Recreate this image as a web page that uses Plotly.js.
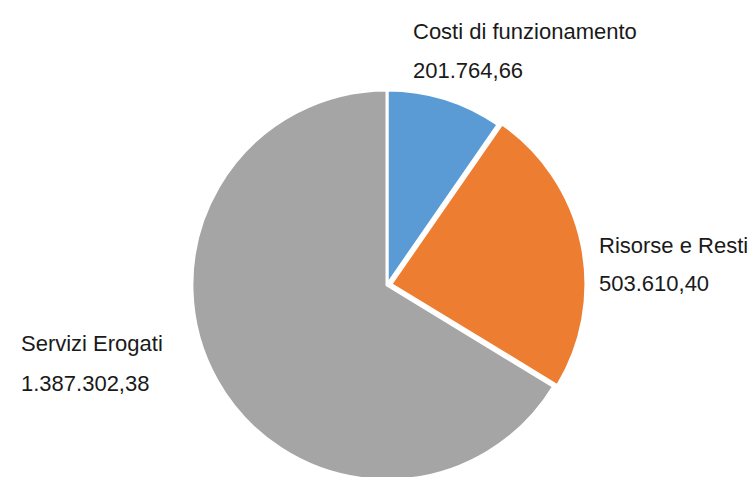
<!DOCTYPE html>
<html><head><meta charset="utf-8">
<script src="https://cdn.plot.ly/plotly-3.0.1.min.js"></script>
<style>html,body{margin:0;padding:0;overflow:hidden;background:#fff;width:752px;height:477px}#chart{width:752px;height:500px}</style>
</head><body><div id="chart"></div>
<script>
const categories = ["Costi di funzionamento", "Risorse e Resti", "Servizi Erogati"];
const values = [201764.66, 503610.40, 1387302.38];
const valueLabels = ["201.764,66", "503.610,40", "1.387.302,38"];
const colors = ["#5B9BD5", "#ED7D31", "#A5A5A5"];

const W = 752, H = 500;
const font = {family: "Liberation Sans Narrow, Arial Narrow, Liberation Sans, sans-serif", size: 22, color: "#1a1a1a"};
// label anchor positions in pixels (left x, line-1 center y, line-2 center y)
const labelPos = [[411, 31, 70], [597, 245, 283], [19, 343, 383]];
const annotations = [];
categories.forEach((c, i) => {
  const [px, py1, py2] = labelPos[i];
  annotations.push({text: c, x: px / W, y: 1 - py1 / H, xref: "paper", yref: "paper", xanchor: "left", yanchor: "middle", showarrow: false, font: font});
  annotations.push({text: valueLabels[i], x: px / W, y: 1 - py2 / H, xref: "paper", yref: "paper", xanchor: "left", yanchor: "middle", showarrow: false, font: font});
});

Plotly.newPlot("chart", [{
  type: "pie",
  labels: categories,
  values: values,
  sort: false,
  direction: "clockwise",
  rotation: 0,
  pull: [0, 0.02, 0],
  marker: {colors: colors, line: {color: "#ffffff", width: 3}},
  textinfo: "none",
  hoverinfo: "label+value",
  domain: {x: [188 / W, 586 / W], y: [1 - 484 / H, 1 - 86 / H]}
}], {
  width: W, height: H,
  margin: {l: 0, r: 0, t: 0, b: 0},
  showlegend: false,
  paper_bgcolor: "#ffffff",
  annotations: annotations
}, {displayModeBar: false, staticPlot: true});
</script>
</body></html>
